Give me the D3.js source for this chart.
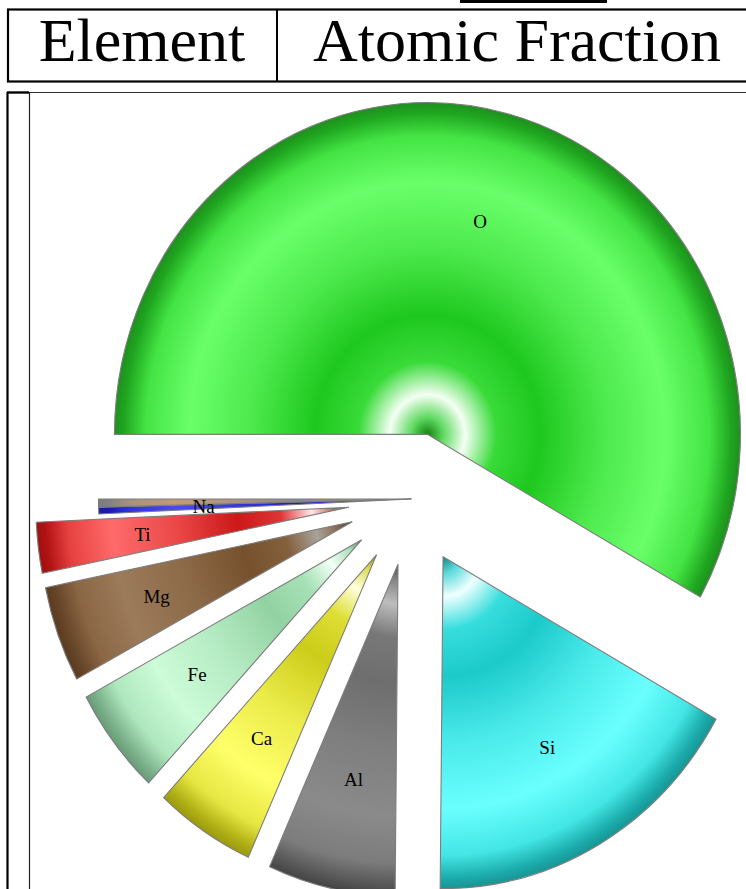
<!DOCTYPE html>
<html>
<head>
<meta charset="utf-8">
<script src="https://cdn.jsdelivr.net/npm/d3@7/dist/d3.min.js"></script>
<style>
  html, body { margin: 0; padding: 0; background: #fff; }
  svg { display: block; }
</style>
</head>
<body>
<script>
// ---------- data ----------
const categories = ["O", "Si", "Al", "Ca", "Fe", "Mg", "Ti", "Na", ""];
const fractions  = [0.5814, 0.1700, 0.0658, 0.0519, 0.0522, 0.0467, 0.0247, 0.0033, 0.0039];
const headerLabels = ["Element", "Atomic Fraction"];

// ---------- styles ----------
const palette = {
  "O":  {dark: "#1ec81e", light: "#6aff6a", rim: "#1f8f1f", glow: "#f4fff4"},
  "Si": {dark: "#1ccaca", light: "#6affff", rim: "#1a9494", glow: "#f0ffff"},
  "Al": {dark: "#6e6e6e", light: "#8a8a8a", rim: "#444444", glow: "#bdbdbd"},
  "Ca": {dark: "#cccc1a", light: "#ffff6a", rim: "#9a9a10", glow: "#ffffdd"},
  "Fe": {dark: "#92d2a2", light: "#ccfcd8", rim: "#6a9a78", glow: "#f2fff6"},
  "Mg": {dark: "#77512e", light: "#9c7b5a", rim: "#5a3c22", glow: "#a8a298"},
  "Ti": {dark: "#cc1818", light: "#ff6a6a", rim: "#a01010", glow: "#ffe8e8"},
  "Na": {dark: "#1a1acc", light: "#4a4aee", rim: "#1a1a99", glow: "#8888ff"},
  "":   {dark: "#8a8a8a", light: "#c49a78", rim: "#7a7a7a", glow: "#aaaaaa"}
};

const W = 746, H = 889;
const cx = 411.5, cy = 499, R = 313, ky = 1.06, explodeDist = 63, labelR = 208;

const svg = d3.select("body").append("svg")
  .attr("width", W).attr("height", H)
  .attr("viewBox", `0 0 ${W} ${H}`);

svg.append("rect").attr("width", W).attr("height", H).attr("fill", "#fff");

// ---------- header table ----------
const serif = "'Liberation Serif', 'Times New Roman', serif";
svg.append("rect").attr("x", 460).attr("y", -2).attr("width", 147).attr("height", 5).attr("fill", "#000");
svg.append("rect").attr("x", 8).attr("y", 9.5).attr("width", 800).attr("height", 72)
  .attr("fill", "none").attr("stroke", "#000").attr("stroke-width", 2.2);
svg.append("line").attr("x1", 277).attr("x2", 277).attr("y1", 9.5).attr("y2", 81.5)
  .attr("stroke", "#000").attr("stroke-width", 2);

const headerX = [142, 517];
svg.selectAll("text.hdr").data(headerLabels).join("text")
  .attr("class", "hdr")
  .attr("x", (d, i) => headerX[i]).attr("y", 61)
  .attr("text-anchor", "middle")
  .attr("font-family", serif).attr("font-size", 62)
  .attr("fill", "#000")
  .text(d => d);

// ---------- body box ----------
svg.append("line").attr("x1", 8).attr("x2", 760).attr("y1", 92.5).attr("y2", 92.5)
  .attr("stroke", "#333").attr("stroke-width", 1.2);
svg.append("line").attr("x1", 7).attr("x2", 29).attr("y1", 92.5).attr("y2", 92.5)
  .attr("stroke", "#000").attr("stroke-width", 2.4);
svg.append("line").attr("x1", 7.5).attr("x2", 7.5).attr("y1", 92).attr("y2", H + 2)
  .attr("stroke", "#000").attr("stroke-width", 2.2);
svg.append("line").attr("x1", 29.5).attr("x2", 29.5).attr("y1", 92).attr("y2", H + 2)
  .attr("stroke", "#222").attr("stroke-width", 1.2);

// ---------- pie ----------
const pie = d3.pie().sort(null).value(d => d)
  .startAngle(-Math.PI / 2).endAngle(3 * Math.PI / 2);
const arcs = pie(fractions);
const arc = d3.arc().innerRadius(0).outerRadius(R);

const defs = svg.append("defs");
const mix = (a, b, t) => d3.interpolateRgb(a, b)(t);

categories.forEach((c, i) => {
  const p = palette[c];
  const stops = [
    [0.00, mix(p.dark, "#000", 0.35)],
    [0.05, mix(p.dark, p.glow, 0.3)],
    [0.12, p.glow],
    [0.22, mix(p.dark, p.light, 0.35)],
    [0.36, p.dark],
    [0.56, mix(p.dark, p.light, 0.6)],
    [0.76, p.light],
    [0.90, mix(p.dark, p.light, 0.5)],
    [0.97, mix(p.dark, p.rim, 0.6)],
    [1.00, p.rim]
  ];
  const g = defs.append("radialGradient")
    .attr("id", "grad" + i)
    .attr("gradientUnits", "userSpaceOnUse")
    .attr("cx", 0).attr("cy", 0).attr("r", R);
  stops.forEach(s => g.append("stop").attr("offset", s[0]).attr("stop-color", s[1]));
});

const explodeOf = v => (v < 0.01 ? 0 : explodeDist);
const offset = d => {
  const mid = (d.startAngle + d.endAngle) / 2;
  const e = explodeOf(d.value);
  return [e * Math.sin(mid), -e * Math.cos(mid)];
};

const pg = svg.append("g").attr("transform", `translate(${cx},${cy}) scale(1,${ky})`);
pg.selectAll("path").data(arcs).join("path")
  .attr("transform", d => { const o = offset(d); return `translate(${o[0]},${o[1]})`; })
  .attr("d", arc)
  .attr("fill", (d, i) => `url(#grad${i})`)
  .attr("stroke", "#7d7d7d")
  .attr("stroke-width", 1.1)
  .attr("vector-effect", "non-scaling-stroke");

// labels (in screen space so they are not stretched)
svg.selectAll("text.lbl").data(arcs).join("text")
  .attr("class", "lbl")
  .attr("x", d => {
    const mid = (d.startAngle + d.endAngle) / 2, o = offset(d);
    return cx + o[0] + labelR * Math.sin(mid);
  })
  .attr("y", d => {
    const mid = (d.startAngle + d.endAngle) / 2, o = offset(d);
    return cy + (o[1] - labelR * Math.cos(mid)) * ky;
  })
  .attr("dy", "0.35em")
  .attr("text-anchor", "middle")
  .attr("font-family", serif).attr("font-size", 19)
  .attr("fill", "#000")
  .text((d, i) => categories[i]);
</script>
</body>
</html>
